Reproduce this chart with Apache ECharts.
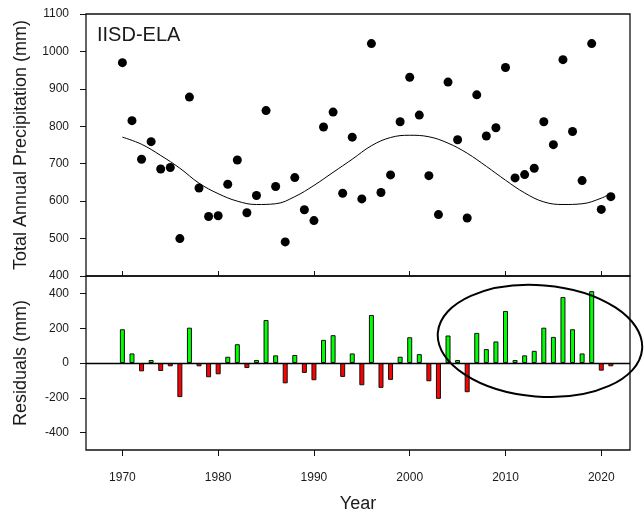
<!DOCTYPE html>
<html>
<head>
<meta charset="utf-8">
<script src="https://cdn.jsdelivr.net/npm/echarts@6/dist/echarts.min.js"></script>
<style>html,body{margin:0;padding:0;background:#fff;}#c{width:644px;height:514px;}</style>
</head>
<body>
<div id="c"></div>
<script>
const years = [1970,1971,1972,1973,1974,1975,1976,1977,1978,1979,
  1980,1981,1982,1983,1984,1985,1986,1987,1988,1989,
  1990,1991,1992,1993,1994,1995,1996,1997,1998,1999,
  2000,2001,2002,2003,2004,2005,2006,2007,2008,2009,
  2010,2011,2012,2013,2014,2015,2016,2017,2018,2019,
  2020,2021];
const precipitation = [970,815,712,759,686,690,500,878,635,559,
  561,645,710,569,615,842,639,491,663,577,
  548,798,838,621,771,606,1021,623,670,812,
  931,830,668,564,918,764,555,884,774,796,
  957,662,671,688,812,751,978,786,655,1021,
  578,612];
const residuals = [194,55,-48,17,-46,-19,-196,203,-19,-82,
  -65,36,108,-29,17,247,44,-117,46,-57,
  -99,133,160,-80,55,-128,276,-143,-97,36,
  148,51,-105,-206,158,17,-168,173,80,124,
  299,17,44,70,203,150,379,194,55,413,
  -44,-19];
const fitYears = [1970,1972,1974,1976,1978,1980,1982,1984,1986,1988,1990,1992,1994,1996,1998,2000,2002,2004,2006,2008,2010,2012,2014,2016,2018,2020,2021];
const fitValues = [771,752,722,688,648,620,600,591,593,612,642,677,712,748,770,776,772,755,728,693,656,622,598,591,593,608,621];
const xTicks = [1970,1980,1990,2000,2010,2020];
const residualTicks = [-400,-200,0,200,400];
// highlighted region (data coords of ellipse in residual panel)
const ellipseCenter = [2013.6, 127];
const ellipseHalfYears = 10.7;
const ellipseHalfResidual = 320;

const FONT = "'Liberation Sans',Arial,sans-serif";
const txt = '#1a1a1a';
const plain = v => String(v);

const chart = echarts.init(document.getElementById('c'), null, {renderer:'canvas'});
const xCommon = {
  type:'value', min:1966.2, max:2023,
  axisLine:{show:false, onZero:false}, splitLine:{show:false}
};
const option = {
  animation:false,
  backgroundColor:'#fff',
  grid:[
    {left:86, right:14, top:14, height:262, show:true, borderColor:'#111', borderWidth:1.3, backgroundColor:'transparent'},
    {left:86, right:14, top:276, height:174, show:true, borderColor:'#111', borderWidth:1.3, backgroundColor:'transparent'}
  ],
  xAxis:[
    Object.assign({}, xCommon, {gridIndex:0,
      axisTick:{show:true, inside:true, length:5, lineStyle:{color:'#111'}, customValues:xTicks},
      axisLabel:{show:false}}),
    Object.assign({}, xCommon, {gridIndex:1,
      axisTick:{show:true, inside:false, length:6, lineStyle:{color:'#111'}, customValues:xTicks},
      axisLabel:{show:true, customValues:xTicks, formatter:plain, margin:22, fontSize:12, color:txt, fontFamily:FONT},
      name:'Year', nameLocation:'middle', nameGap:45,
      nameTextStyle:{fontSize:18, color:txt, fontFamily:FONT}})
  ],
  yAxis:[
    {type:'value', gridIndex:0, min:400, max:1100, interval:100,
      axisLine:{show:false, onZero:false}, splitLine:{show:false},
      axisTick:{show:true, inside:false, length:6, lineStyle:{color:'#111'}},
      axisLabel:{margin:17, fontSize:12, color:txt, fontFamily:FONT, formatter:plain},
      name:'Total Annual Precipitation (mm)', nameLocation:'middle', nameGap:56,
      nameTextStyle:{fontSize:18, color:txt, fontFamily:FONT}},
    {type:'value', gridIndex:1, min:-500, max:500,
      axisLine:{show:false, onZero:false}, splitLine:{show:false},
      axisTick:{show:true, inside:false, length:6, lineStyle:{color:'#111'}, customValues:residualTicks},
      axisLabel:{margin:17, fontSize:12, color:txt, fontFamily:FONT, formatter:plain, customValues:residualTicks},
      name:'Residuals (mm)', nameLocation:'middle', nameGap:56,
      nameTextStyle:{fontSize:18, color:txt, fontFamily:FONT}}
  ],
  series:[
    {type:'line', xAxisIndex:0, yAxisIndex:0, smooth:0.4, showSymbol:false, symbol:'none',
      data:fitYears.map((y,i)=>[y, fitValues[i]]),
      lineStyle:{color:'#000', width:1}, z:2},
    {type:'scatter', xAxisIndex:0, yAxisIndex:0, symbol:'circle', symbolSize:9,
      data:years.map((y,i)=>[y, precipitation[i]]),
      itemStyle:{color:'#000', opacity:1}, z:3},
    {type:'bar', xAxisIndex:1, yAxisIndex:1, barWidth:5,
      data:years.map((y,i)=>[y, residuals[i]]),
      itemStyle:{color:p=>p.value[1]>=0?'#00ff00':'#ff0000', borderColor:'#111', borderWidth:1, opacity:1},
      markLine:{silent:true, symbol:'none', label:{show:false},
        lineStyle:{color:'#000', width:1.3, type:'solid'}, data:[{yAxis:0}]}, z:3}
  ],
  graphic:[
    {type:'text', left:97, top:25, style:{text:'IISD-ELA', fontSize:20, fill:txt, fontFamily:FONT}}
  ]
};
chart.setOption(option);
const c = chart.convertToPixel({gridIndex:1}, ellipseCenter);
const e = chart.convertToPixel({gridIndex:1}, [ellipseCenter[0]+ellipseHalfYears, ellipseCenter[1]+ellipseHalfResidual]);
chart.setOption({graphic:[
  {type:'text', left:97, top:25, style:{text:'IISD-ELA', fontSize:20, fill:txt, fontFamily:FONT}},
  {type:'ellipse', x:c[0], y:c[1], rotation:-0.08, silent:true, z:10,
    shape:{cx:0, cy:0, rx:Math.abs(e[0]-c[0]), ry:Math.abs(c[1]-e[1])},
    style:{fill:'none', stroke:'#000', lineWidth:2}}
]});
</script>
</body>
</html>
